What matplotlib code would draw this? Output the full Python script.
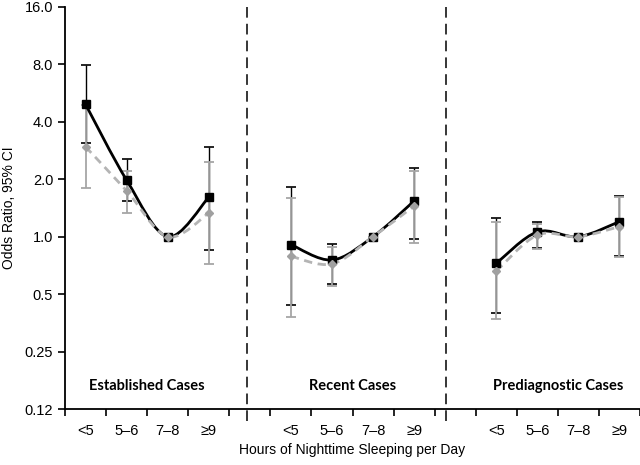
import numpy as np
import matplotlib
matplotlib.use('Agg')
import matplotlib.pyplot as plt
from matplotlib.path import Path
from matplotlib.patches import PathPatch
from matplotlib.ticker import FixedLocator, NullFormatter

plt.rcParams['font.family'] = ['Liberation Sans', 'DejaVu Sans']

categories = ['<5', '5–6', '7–8', '≥9']
panels = ['Established Cases', 'Recent Cases', 'Prediagnostic Cases']

# black series (squares): odds ratio, lower CI, upper CI per panel
black_or = [[4.94, 1.98, 1.0, 1.61],
            [0.91, 0.755, 1.0, 1.54],
            [0.725, 1.06, 1.0, 1.20]]
black_lo = [[3.1, 1.53, 1.0, 0.85],
            [0.44, 0.565, 1.0, 0.97],
            [0.40, 0.875, 1.0, 0.79]]
black_hi = [[7.9, 2.55, 1.0, 2.96],
            [1.83, 0.915, 1.0, 2.28],
            [1.26, 1.20, 1.0, 1.64]]

# gray series (diamonds)
gray_or = [[2.96, 1.74, 1.0, 1.33],
           [0.79, 0.72, 1.0, 1.45],
           [0.66, 1.02, 1.0, 1.13]]
gray_lo = [[1.81, 1.33, 1.0, 0.72],
           [0.38, 0.55, 1.0, 0.93],
           [0.37, 0.86, 1.0, 0.78]]
gray_hi = [[4.9, 2.22, 1.0, 2.47],
           [1.59, 0.88, 1.0, 2.22],
           [1.20, 1.17, 1.0, 1.62]]

yticks = [0.125, 0.25, 0.5, 1.0, 2.0, 4.0, 8.0, 16.0]
ytick_labels = ['0.12', '0.25', '0.5', '1.0', '2.0', '4.0', '8.0', '16.0']


def smooth_path(x, y):
    # Excel-like smoothed line: Catmull-Rom converted to cubic Bezier (in log2 space)
    x = np.asarray(x, float)
    ly = np.log2(np.asarray(y, float))
    n = len(x)
    verts = [(x[0], ly[0])]
    codes = [Path.MOVETO]
    for i in range(n - 1):
        i0 = max(i - 1, 0)
        i3 = min(i + 2, n - 1)
        c1 = (x[i] + (x[i + 1] - x[i0]) / 6, ly[i] + (ly[i + 1] - ly[i0]) / 6)
        c2 = (x[i + 1] - (x[i3] - x[i]) / 6, ly[i + 1] - (ly[i3] - ly[i]) / 6)
        verts += [c1, c2, (x[i + 1], ly[i + 1])]
        codes += [Path.CURVE4] * 3
    verts = [(vx, 2 ** vy) for vx, vy in verts]
    return Path(verts, codes)


fig = plt.figure(figsize=(6.4, 4.65), dpi=100)
ax = fig.add_axes([0.1016, 0.1204, 0.8984, 0.8646])

for p in range(3):
    xs = np.arange(4) + p * 5
    # gray first, black on top
    ax.errorbar(xs, gray_or[p],
                yerr=[np.array(gray_or[p]) - np.array(gray_lo[p]),
                      np.array(gray_hi[p]) - np.array(gray_or[p])],
                fmt='none', ecolor='#a6a6a6', elinewidth=1.3, capsize=3.5, capthick=1.3, zorder=2)
    ax.errorbar(xs, black_or[p],
                yerr=[np.array(black_or[p]) - np.array(black_lo[p]),
                      np.array(black_hi[p]) - np.array(black_or[p])],
                fmt='none', ecolor='black', elinewidth=1.0, capsize=3.5, capthick=1.2, zorder=1)
    ax.add_patch(PathPatch(smooth_path(xs, black_or[p]), fill=False, edgecolor='black',
                           lw=2.0, zorder=3))
    ax.add_patch(PathPatch(smooth_path(xs, gray_or[p]), fill=False, edgecolor='#b4b4b4',
                           lw=2.0, linestyle=(0, (3, 2)), zorder=4))
    ax.plot(xs, black_or[p], 's', color='black', ms=6, zorder=5)
    ax.plot(xs, gray_or[p], 'D', color='#a0a0a0', ms=4, zorder=6)
    ax.text(p * 5 + 1.5, 0.165, panels[p], ha='center', va='center',
            fontsize=10.5, fontweight='bold', family=['Lato', 'DejaVu Sans'])

# dashed separators
for xd in [3.94, 8.77]:
    ax.plot([xd, xd], [-0.03, 1.0], color='black', lw=1.1, dashes=(7, 4),
            transform=ax.get_xaxis_transform(), clip_on=False)

ax.set_yscale('log', base=2)
ax.set_ylim(0.125, 16)
ax.set_yticks(yticks)
ax.set_yticklabels(ytick_labels)
ax.yaxis.set_minor_locator(FixedLocator([]))
ax.set_xlim(-0.5, 13.5)

ax.set_xticks(np.arange(-0.5, 14, 1))
ax.xaxis.set_major_formatter(NullFormatter())
label_pos = [p * 5 + i for p in range(3) for i in range(4)]
ax.set_xticks(label_pos, minor=True)
ax.set_xticklabels(categories * 3, minor=True)
ax.tick_params(axis='x', which='minor', length=0, pad=11, labelsize=10.5)
ax.tick_params(axis='x', which='major', length=5, width=1.2, direction='out')
ax.tick_params(axis='y', length=5, width=1.2, direction='out', labelsize=10.5)

ax.spines['top'].set_visible(False)
ax.spines['right'].set_visible(False)
ax.spines['left'].set_linewidth(1.3)
ax.spines['bottom'].set_linewidth(1.3)

ax.set_ylabel('Odds Ratio, 95% CI', fontsize=10, labelpad=6)
ax.xaxis.set_label_coords(0.5, -0.085)
ax.set_xlabel('Hours of Nighttime Sleeping per Day', fontsize=10, va='top')

fig.savefig('out.png', dpi=100)
